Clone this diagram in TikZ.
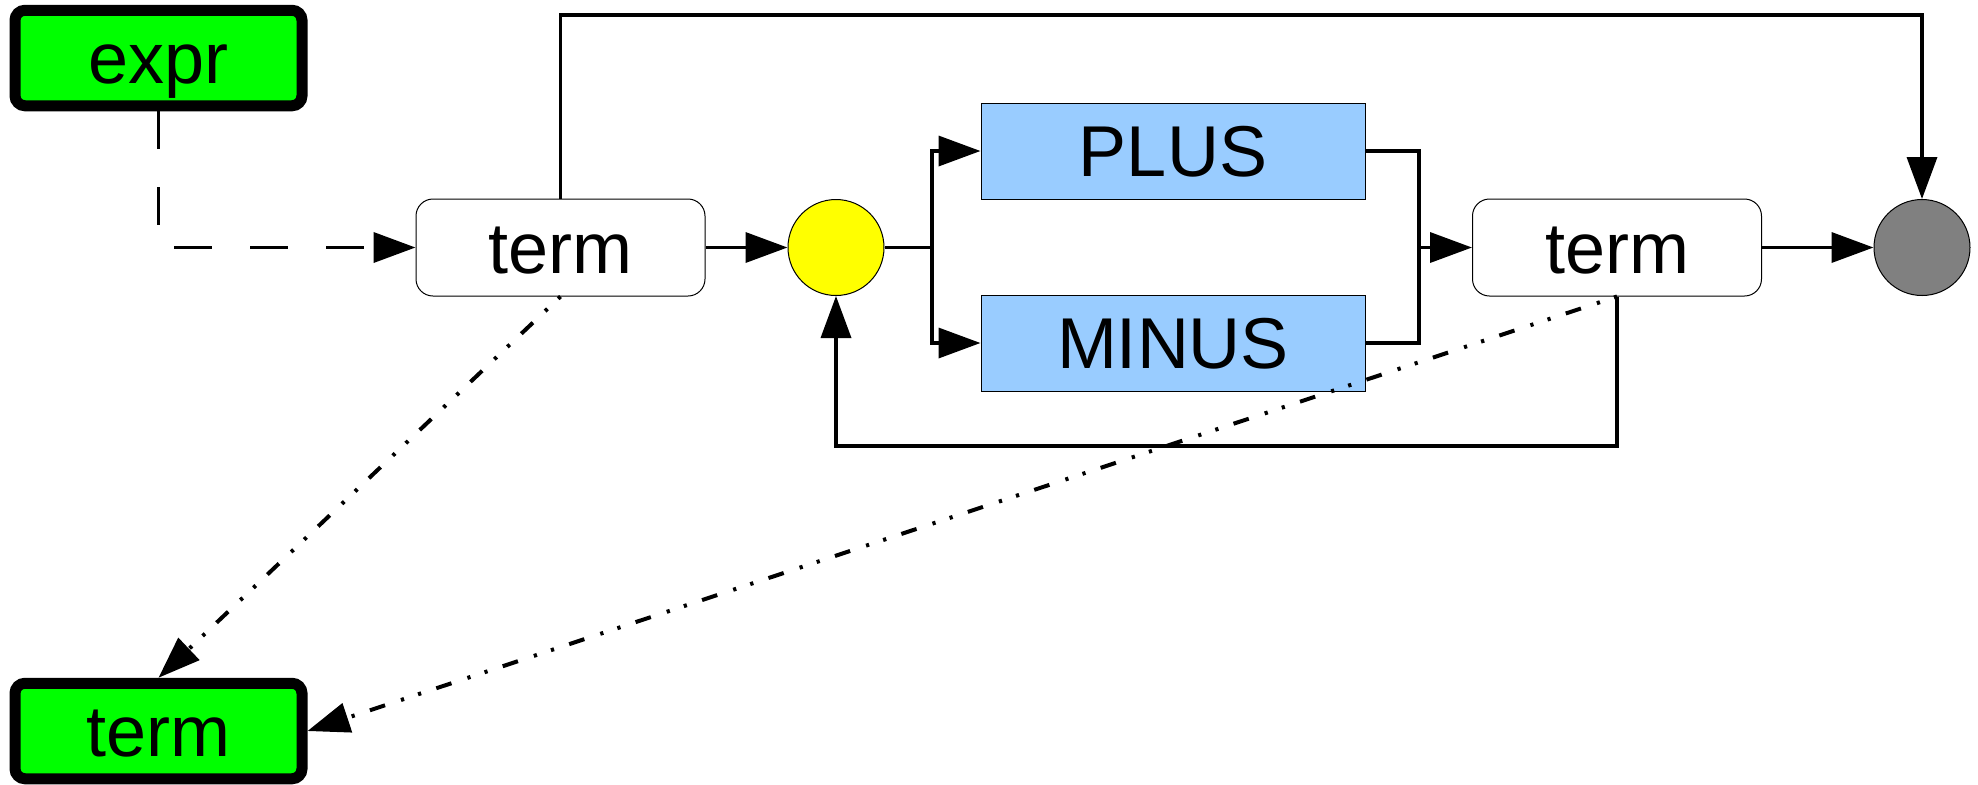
\documentclass[tikz,border=0pt]{standalone}
\usepackage{fontspec}
\setmainfont{Liberation Sans}
\usetikzlibrary{arrows.meta}
\definecolor{rulegreen}{HTML}{00FF00}
\definecolor{tokblue}{HTML}{99CCFF}
\definecolor{joinyellow}{HTML}{FFFF00}
\definecolor{endgray}{HTML}{808080}

\begin{document}
\begin{tikzpicture}[x=0.5pt,y=-0.5pt,
  labelfont/.style={font=\fontsize{36}{40}\selectfont, text height=25.8pt, text depth=0pt, inner sep=0pt},
  rulebox/.style={labelfont, draw, line width=5.5pt, fill=rulegreen, rounded corners=5pt,
    minimum width=143.5pt, minimum height=47.75pt},
  callbox/.style={labelfont, draw, line width=0.5pt, fill=white, rounded corners=8.5pt,
    minimum width=144.5pt, minimum height=48.5pt},
  tokbox/.style={labelfont, draw, line width=0.5pt, fill=tokblue,
    minimum width=192pt, minimum height=48pt},
  joint/.style={circle, draw, line width=0.5pt, minimum size=48pt, inner sep=0pt},
  tip/.style={-{Triangle[length=21pt,width=15pt]}},
  wire/.style={line width=1.8pt, line join=miter},
  flow/.style={wire, tip},
  expand/.style={line width=1.9pt, dash pattern=on 19pt off 19pt, tip},
  uses/.style={line width=2pt,
    dash pattern=on 1.6pt off 7.4pt on 1.6pt off 8.4pt on 8pt off 8pt, tip}
]
\useasboundingbox (0,0) rectangle (1978,784);

% rule nodes
\node[rulebox] (expr) at (158.5,58) {expr};
\node[rulebox] (use) at (158.5,731) {term};

% body of expr: term ((PLUS|MINUS) term)*
\node[callbox] (t1) at (560.5,247.5) {term};
\node[joint, fill=joinyellow] (loop) at (836,247.5) {};
\node[tokbox] (plus) at (1173,151) {PLUS};
\node[tokbox] (minus) at (1173,343) {MINUS};
\node[callbox] (t2) at (1617,247.5) {term};
\node[joint, fill=endgray] (end) at (1922,247.5) {};

\coordinate (split) at (932,247.5);
\coordinate (merge) at (1419,247.5);
\coordinate (top) at (0,15);
\coordinate (bottom) at (0,446);

% rule to its body
\draw[expand] (expr.south) |- (t1.west);

% main flow
\draw[flow] (t1.east) -- (loop.west);
\draw[wire] (loop.east) -- (split);
\draw[flow] (split) |- (plus.west);
\draw[flow] (split) |- (minus.west);
\draw[wire] (plus.east) -| (merge);
\draw[wire] (minus.east) -| (merge);
\draw[flow] (merge) -- (t2.west);
\draw[flow] (t2.east) -- (end.west);

% bypass and repeat
\draw[flow] (t1.north) -- (t1.north |- top) -| (end.north);
\draw[flow] (t2.south) -- (t2.south |- bottom) -| (loop.south);

% references to the term rule
\draw[uses] (t1.south) -- (use.north);
\draw[uses] (t2.south) -- (use.east);
\end{tikzpicture}
\end{document}
